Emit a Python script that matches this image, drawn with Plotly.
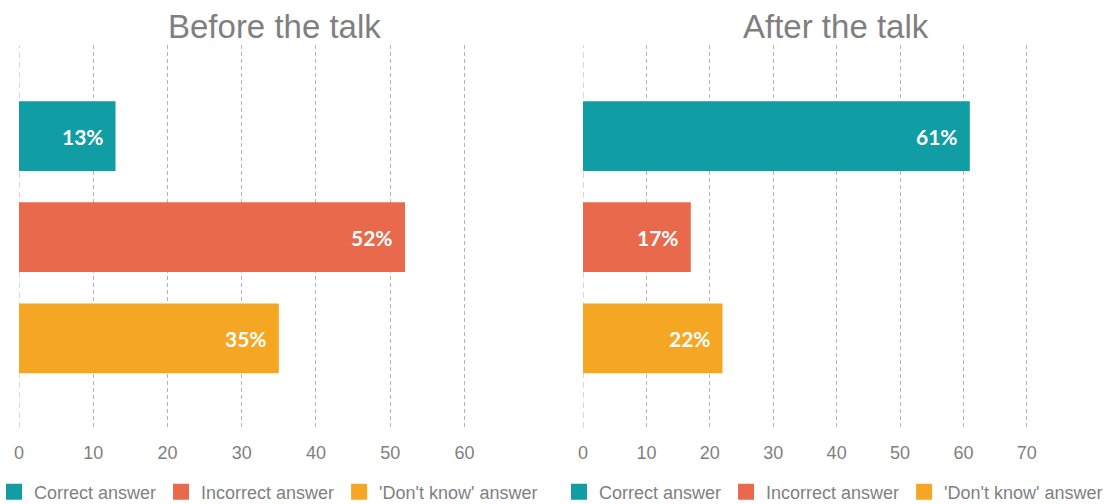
import plotly.graph_objects as go
from plotly.subplots import make_subplots

categories = ["Correct answer", "Incorrect answer", "'Don't know' answer"]
before_values = [13, 52, 35]
after_values = [61, 17, 22]
panel_titles = ["Before the talk", "After the talk"]
colors = ["#109DA4", "#E8694C", "#F5A623"]

W, H = 1118, 504
GRAY = "#7F7F7F"
GRID = "#B4B4B4"

fig = make_subplots(rows=1, cols=2)

panels = [
    (before_values, 1, "legend", "x", "y"),
    (after_values, 2, "legend2", "x2", "y2"),
]
for values, col, legend_name, xa, ya in panels:
    for cat, val, color in zip(categories, values, colors):
        fig.add_trace(
            go.Bar(
                x=[val], y=[cat], orientation="h", name=cat,
                marker=dict(color=color, line=dict(width=0)),
                width=0.69, showlegend=False, hoverinfo="skip",
            ),
            row=1, col=col,
        )
        # legend key: a square swatch in the series colour
        fig.add_trace(
            go.Scatter(
                x=[None], y=[None], mode="markers", name=cat,
                marker=dict(symbol="square", size=16, color=color),
                legend=legend_name, showlegend=True, hoverinfo="skip",
            ),
            row=1, col=col,
        )
        fig.add_annotation(
            x=val, y=cat, xref=xa, yref=ya, text=f"{val}%",
            xanchor="right", xshift=-10, showarrow=False,
            font=dict(family="Lato", size=21, color="white", weight="bold"),
        )

y_dom = [1 - 428 / H, 1 - 45 / H]
x_doms = [[19 / W, 529 / W], [583 / W, 1089 / W]]
x_ranges = [[0, 68.7], [0, 79.8]]

for i, (dom, rng) in enumerate(zip(x_doms, x_ranges), start=1):
    fig.update_xaxes(
        domain=dom, range=rng, tick0=0, dtick=10, automargin=False,
        showgrid=True, gridcolor=GRID, griddash="4px,3px", gridwidth=1,
        zeroline=False, showline=False, ticks="",
        tickfont=dict(family="Liberation Sans", size=18, color=GRAY),
        ticklabelstandoff=12,
        row=1, col=i,
    )
    fig.update_yaxes(
        domain=y_dom, range=[2.886, -0.9], showticklabels=False, automargin=False,
        showgrid=False, zeroline=False, showline=False, ticks="",
        row=1, col=i,
    )
    # gridline at zero, at the left edge of the plot area
    xname = "x" if i == 1 else f"x{i}"
    yname = "y" if i == 1 else f"y{i}"
    fig.add_shape(
        type="line", x0=0, x1=0, y0=0, y1=1,
        xref=xname, yref=f"{yname} domain",
        line=dict(color=GRID, width=1, dash="6px,4px"),
        layer="below",
    )

for title, dom in zip(panel_titles, x_doms):
    fig.add_annotation(
        x=(dom[0] + dom[1]) / 2, y=1 - 26 / H, xref="paper", yref="paper",
        text=title, showarrow=False, xanchor="center", yanchor="middle",
        font=dict(family="Liberation Sans", size=33, color=GRAY),
    )

legend_style = dict(
    orientation="h", yanchor="middle", xanchor="left",
    font=dict(family="Liberation Sans", size=18, color=GRAY),
    bgcolor="rgba(0,0,0,0)", itemclick=False, itemdoubleclick=False,
    traceorder="normal",
)

fig.update_layout(
    width=W, height=H,
    margin=dict(l=0, r=0, t=0, b=0, autoexpand=False),
    paper_bgcolor="white", plot_bgcolor="white",
    barmode="overlay",
    legend=dict(x=-6 / W, y=1 - 492 / H, **legend_style),
    legend2=dict(x=559 / W, y=1 - 492 / H, **legend_style),
)

fig.write_html("out.html")
